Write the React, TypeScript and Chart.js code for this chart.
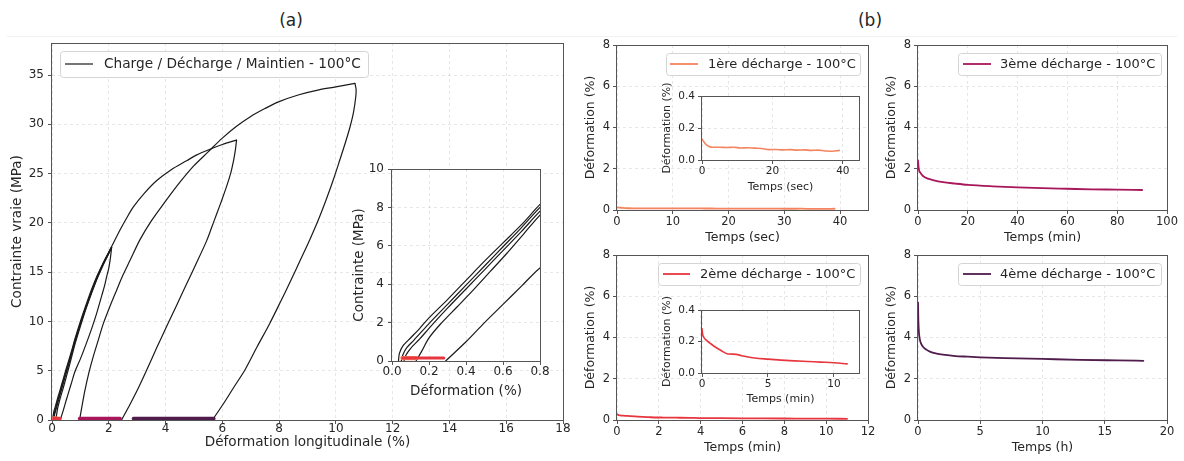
import React, { useEffect, useRef } from "react";
import { Chart, registerables } from "chart.js";

Chart.register(...registerables);

const FONT = "'DejaVu Sans', 'Liberation Sans', sans-serif";
const TEXT = "#262626";
const SPINE = "#555555";
const GRID = "rgba(0,0,0,0.12)";

const BLACK = "#1a1a1a";
const C1 = "#f4845f";
const C2 = "#e8363f";
const C3 = "#a8175b";
const C4 = "#4f1c4c";

// ---------- tick labels ----------
const aStrainTicks = [0, 2, 4, 6, 8, 10, 12, 14, 16, 18];
const aStressTicks = [0, 5, 10, 15, 20, 25, 30, 35];
const insetStrainTicks = [0, 0.2, 0.4, 0.6, 0.8];
const insetStressTicks = [0, 2, 4, 6, 8, 10];
const defTicks = [0, 2, 4, 6, 8];
const secTicks = [0, 10, 20, 30, 40];
const min3Ticks = [0, 20, 40, 60, 80, 100];
const min2Ticks = [0, 2, 4, 6, 8, 10, 12];
const hourTicks = [0, 5, 10, 15, 20];
const insetDefTicks = [0, 0.2, 0.4];
const insetSecTicks = [0, 20, 40];
const insetMinTicks = [0, 5, 10];

// ---------- (a) charge / décharge curves : [strain %, stress MPa] ----------
const load1: [number, number][] = [[0.035,0],[0.04,0.4],[0.06,0.8],[0.1,1.2],[0.15,1.7],[0.2,2.25],[0.3,3.2],[0.4,4.2],[0.5,5.2],[0.6,6.15],[0.7,7.1],[0.8,8.15],[1.0,10.0],[1.2,11.7],[1.4,13.3],[1.6,14.7],[1.8,15.9],[2.0,17.0],[2.1,17.5]];
const unload1: [number, number][] = [[2.1,17.5],[1.98,16.8],[1.8,15.7],[1.6,14.4],[1.4,12.9],[1.2,11.3],[1.0,9.5],[0.8,7.6],[0.71,6.6],[0.62,5.6],[0.53,4.65],[0.44,3.7],[0.35,2.8],[0.26,1.9],[0.2,1.2],[0.16,0.5],[0.13,0]];
const load2: [number, number][] = [[0.05,0],[0.06,0.35],[0.08,0.7],[0.12,1.1],[0.2,1.95],[0.3,2.95],[0.4,3.95],[0.5,4.95],[0.6,5.95],[0.7,6.95],[0.8,8.0],[1.0,9.8],[1.2,11.5],[1.4,13.1],[1.6,14.5],[1.8,15.8],[2.0,16.9],[2.1,17.5]];
const unload2: [number, number][] = [[2.1,17.5],[2.06,16.5],[2.0,15.4],[1.93,14.6],[1.85,13.6],[1.75,12.6],[1.57,10.8],[1.4,9.3],[1.2,7.7],[1.0,6.2],[0.8,4.85],[0.7,3.9],[0.6,2.95],[0.5,2.0],[0.4,1.0],[0.29,0]];
const load3: [number, number][] = [[0.065,0],[0.075,0.3],[0.1,0.65],[0.15,1.15],[0.2,1.7],[0.3,2.75],[0.4,3.75],[0.5,4.75],[0.6,5.75],[0.7,6.75],[0.8,7.8],[1.0,9.7],[1.2,11.4],[1.5,13.8],[1.8,15.9],[2.1,17.6],[2.4,19.3],[2.63,20.5],[2.86,21.6],[3.25,23.0],[3.69,24.3],[4.2,25.4],[4.74,26.3],[5.1,26.9],[5.5,27.4],[6.0,27.95],[6.5,28.4]];
const unload3: [number, number][] = [[6.5,28.4],[6.46,27.4],[6.4,26.4],[6.3,25.1],[6.15,23.7],[5.98,22.3],[5.8,20.9],[5.62,19.5],[5.45,18.2],[5.1,16.0],[4.74,13.8],[4.4,11.7],[4.04,9.5],[3.7,7.4],[3.34,5.1],[3.05,3.3],[2.75,1.6],[2.45,0]];
const load4: [number, number][] = [[0.97,0],[1.05,1.3],[1.16,3.0],[1.3,4.8],[1.45,6.4],[1.63,8.1],[1.81,9.8],[2.05,11.6],[2.28,13.2],[2.5,14.7],[2.75,16.2],[3.1,18.3],[3.5,20.2],[4.0,22.2],[4.5,24.1],[5.0,25.8],[5.5,27.2],[6.0,28.6],[6.5,29.8],[7.0,30.8],[7.5,31.6],[8.0,32.3],[8.7,33.0],[9.4,33.5],[10.0,33.8],[10.67,34.15]];
const unload4: [number, number][] = [[10.67,34.15],[10.71,33.6],[10.7,32.8],[10.62,31.2],[10.5,29.75],[10.33,28.1],[10.14,26.4],[9.9,24.3],[9.65,22.3],[9.38,20.3],[9.08,18.3],[8.76,16.3],[8.42,14.2],[8.05,12.0],[7.67,9.8],[7.22,7.4],[6.8,5.1],[6.4,3.3],[6.05,1.7],[5.65,0]];
const HOLD_STRESS = 0.15;

// ---------- (b) maintiens : time vs déformation ----------
const t1Sec = [0,0.5,1,2,3,5,7,9,11,13,15,17,19,21,23,25,27,29,31,33,35,37,39];
const def1 = [0.13,0.115,0.1,0.085,0.08,0.08,0.078,0.08,0.075,0.077,0.074,0.072,0.065,0.066,0.063,0.065,0.062,0.063,0.06,0.062,0.056,0.055,0.06];
const t2Min = [0,0.05,0.15,0.3,0.6,1.0,1.5,1.9,2.2,2.6,3.0,3.5,4.0,5.0,6.0,7.0,8.0,9.0,10.0,11.0];
const def2 = [0.28,0.245,0.225,0.21,0.19,0.165,0.14,0.122,0.12,0.118,0.11,0.102,0.095,0.088,0.082,0.077,0.073,0.069,0.065,0.058];
const t3Min = [0,0.3,1,2,4,6,10,15,20,30,40,50,60,70,80,90];
const def3 = [2.4,2.0,1.8,1.65,1.52,1.45,1.35,1.28,1.22,1.15,1.1,1.06,1.03,1.0,0.99,0.97];
const t4H = [0,0.03,0.08,0.15,0.25,0.4,0.7,1,1.5,2,3,4,5,7,10,13,16,18.1];
const def4 = [5.7,4.8,4.2,3.9,3.7,3.55,3.4,3.3,3.22,3.17,3.1,3.07,3.04,3.0,2.96,2.92,2.89,2.87];

// ---------- helpers ----------
type Rect = { l: number; t: number; r: number; b: number };
type AxisSpec = {
  min: number; max: number; ticks: number[]; dec: number;
  title: string; titleAt: number; titleSize: number; tickSize: number; pad: number; ext?: boolean;
};
type LegendSpec = {
  x0: number; y0: number; x1: number; y1: number; l0: number; l1: number; ly: number;
  tx: number; text: string; color: string; lw: number; size: number;
};
type PanelSpec = { key: string; box: Rect; canvas: Rect; x: AxisSpec; y: AxisSpec; datasets: any[]; legend?: LegendSpec };

const pts = (xs: number[], ys: number[]) => xs.map((x, i) => ({ x, y: ys[i] }));
const pairs = (p: [number, number][]) => p.map(([x, y]) => ({ x, y }));

const lineDs = (data: any[], color: string, width: number, extra: any = {}) => ({
  data, borderColor: color, backgroundColor: color, borderWidth: width, showLine: true,
  pointRadius: 0, fill: false, borderCapStyle: "round", borderJoinStyle: "round", ...extra,
});

const aDatasets = (blackW: number, holdW: number) => [
  ...[load1, unload1, load2, unload2, load3, unload3, load4, unload4].map((seg) =>
    lineDs(pairs(seg), BLACK, blackW, { tension: 0.3, order: 10 })
  ),
  lineDs(def4.map((d) => ({ x: d, y: HOLD_STRESS })), C4, holdW, { order: 4 }),
  lineDs(def3.map((d) => ({ x: d, y: HOLD_STRESS })), C3, holdW, { order: 3 }),
  lineDs(def1.map((d) => ({ x: d, y: HOLD_STRESS })), C1, holdW + 1.2, { order: 2 }),
  lineDs(def2.map((d) => ({ x: d, y: HOLD_STRESS })), C2, holdW, { order: 1 }),
];

const bgFrame = {
  id: "bgFrame",
  beforeDraw(chart: any) {
    const { ctx, chartArea: a } = chart;
    ctx.save();
    ctx.fillStyle = "#ffffff";
    ctx.fillRect(a.left, a.top, a.right - a.left, a.bottom - a.top);
    ctx.restore();
  },
  afterDraw(chart: any, _args: any, o: any) {
    const { ctx, chartArea: a } = chart;
    ctx.save();
    ctx.strokeStyle = SPINE;
    ctx.lineWidth = 1;
    ctx.strokeRect(Math.round(a.left) - 0.5, Math.round(a.top) + 0.5, Math.round(a.right - a.left) + 1, Math.round(a.bottom - a.top));
    if (o && o.vTitle) {
      ctx.fillStyle = TEXT;
      ctx.font = `${o.vSize}px ${FONT}`;
      ctx.textAlign = "center";
      ctx.textBaseline = "middle";
      ctx.translate(o.vx, (a.top + a.bottom) / 2);
      ctx.rotate(-Math.PI / 2);
      ctx.fillText(o.vTitle, 0, 0);
    }
    ctx.restore();
  },
};

const boxLegend = {
  id: "boxLegend",
  afterDatasetsDraw(chart: any, _args: any, o: any) {
    if (!o || !o.text) return;
    const ctx = chart.ctx;
    ctx.save();
    const r = 3;
    const x0 = o.x0 + 0.5, y0 = o.y0 + 0.5, x1 = o.x1 + 0.5, y1 = o.y1 + 0.5;
    ctx.beginPath();
    ctx.moveTo(x0 + r, y0);
    ctx.lineTo(x1 - r, y0);
    ctx.quadraticCurveTo(x1, y0, x1, y0 + r);
    ctx.lineTo(x1, y1 - r);
    ctx.quadraticCurveTo(x1, y1, x1 - r, y1);
    ctx.lineTo(x0 + r, y1);
    ctx.quadraticCurveTo(x0, y1, x0, y1 - r);
    ctx.lineTo(x0, y0 + r);
    ctx.quadraticCurveTo(x0, y0, x0 + r, y0);
    ctx.closePath();
    ctx.fillStyle = "rgba(255,255,255,0.85)";
    ctx.fill();
    ctx.strokeStyle = "#d4d4d4";
    ctx.lineWidth = 1;
    ctx.stroke();
    ctx.beginPath();
    ctx.strokeStyle = o.color;
    ctx.lineWidth = o.lw;
    ctx.moveTo(o.l0, o.ly);
    ctx.lineTo(o.l1, o.ly);
    ctx.stroke();
    ctx.fillStyle = TEXT;
    ctx.font = `${o.size}px ${FONT}`;
    ctx.textBaseline = "middle";
    ctx.textAlign = "left";
    ctx.fillText(o.text, o.tx, o.ly + 0.5);
    ctx.restore();
  },
};

function buildConfig(p: PanelSpec): any {
  const ML = p.box.l - p.canvas.l;
  const MT = p.box.t - p.canvas.t;
  const MR = p.canvas.r - p.box.r;
  const MB = p.canvas.b - p.box.b;
  const axis = (a: AxisSpec, horizontal: boolean, size: number) => ({
    type: "linear",
    position: horizontal ? "bottom" : "left",
    min: a.min,
    max: a.max,
    bounds: "data",
    afterBuildTicks: (s: any) => {
      s.ticks = a.ticks.map((v) => ({ value: v }));
    },
    afterFit: (s: any) => {
      if (horizontal) s.height = size;
      else s.width = size;
      s.paddingLeft = 0;
      s.paddingRight = 0;
      s.paddingTop = 0;
      s.paddingBottom = 0;
    },
    ticks: {
      autoSkip: false,
      maxRotation: 0,
      minRotation: 0,
      padding: a.pad,
      color: TEXT,
      font: { family: FONT, size: a.tickSize },
      callback: (v: any) => Number(v).toFixed(a.dec),
    },
    grid: {
      color: GRID,
      lineWidth: 0.8,
      drawTicks: true,
      tickLength: 4,
      tickColor: SPINE,
      tickWidth: 1,
      tickBorderDash: [],
      drawOnChartArea: true,
    },
    border: { display: false, dash: [3, 3] },
    title: {
      display: !a.ext,
      text: a.title,
      color: TEXT,
      font: { family: FONT, size: a.titleSize },
      padding: horizontal
        ? { top: 0, bottom: p.canvas.b - a.titleAt - a.titleSize * 0.6 }
        : { top: a.titleAt - p.canvas.l - a.titleSize * 0.6, bottom: 0 },
    },
  });
  const lg = p.legend
    ? {
        ...p.legend,
        x0: p.legend.x0 - p.canvas.l, x1: p.legend.x1 - p.canvas.l,
        l0: p.legend.l0 - p.canvas.l, l1: p.legend.l1 - p.canvas.l, tx: p.legend.tx - p.canvas.l,
        y0: p.legend.y0 - p.canvas.t, y1: p.legend.y1 - p.canvas.t, ly: p.legend.ly - p.canvas.t,
      }
    : {};
  const frameOpts = p.y.ext ? { vTitle: p.y.title, vSize: p.y.titleSize, vx: p.y.titleAt - p.canvas.l } : {};
  return {
    type: "scatter",
    data: { datasets: p.datasets },
    options: {
      responsive: false,
      maintainAspectRatio: false,
      animation: false,
      devicePixelRatio: 1,
      events: [],
      layout: { autoPadding: false, padding: { left: 0, top: MT, right: MR, bottom: 0 } },
      scales: { x: axis(p.x, true, MB), y: axis(p.y, false, ML) },
      plugins: { legend: { display: false }, tooltip: { enabled: false }, boxLegend: lg, bgFrame: frameOpts },
    },
    plugins: [bgFrame, boxLegend],
  };
}

function ChartPanel({ spec }: { spec: PanelSpec }) {
  const ref = useRef<HTMLCanvasElement>(null);
  useEffect(() => {
    const chart = new Chart(ref.current as HTMLCanvasElement, buildConfig(spec));
    return () => chart.destroy();
  }, []);
  const w = spec.canvas.r - spec.canvas.l;
  const h = spec.canvas.b - spec.canvas.t;
  return (
    <canvas
      ref={ref}
      width={w}
      height={h}
      style={{ position: "absolute", left: spec.canvas.l, top: spec.canvas.t, width: w, height: h }}
    />
  );
}

const bx = (min: number, max: number, ticks: number[], dec: number, title: string, titleAt: number, titleSize: number, tickSize: number, pad: number, ext = false): AxisSpec => ({
  min, max, ticks, dec, title, titleAt, titleSize, tickSize, pad, ext,
});

const panels: PanelSpec[] = [
  {
    key: "a",
    box: { l: 52, t: 43, r: 563, b: 420 },
    canvas: { l: 0, t: 30, r: 582, b: 461 },
    x: bx(0, 18, aStrainTicks, 0, "Déformation longitudinale (%)", 442, 13.6, 12, -2),
    y: bx(0, 38.25, aStressTicks, 0, "Contrainte vraie (MPa)", 17, 13.6, 12, 4),
    datasets: aDatasets(1.2, 3.5),
    legend: { x0: 60, y0: 51, x1: 368, y1: 77, l0: 65, l1: 93, ly: 64, tx: 104, text: "Charge / Décharge / Maintien - 100°C", color: BLACK, lw: 1.2, size: 13.7 },
  },
  {
    key: "ai",
    box: { l: 392, t: 169, r: 540, b: 361 },
    canvas: { l: 345, t: 158, r: 556, b: 402 },
    x: bx(0, 0.8, insetStrainTicks, 1, "Déformation (%)", 391, 13.5, 12, 0),
    y: bx(0, 10, insetStressTicks, 0, "Contrainte (MPa)", 359, 13.5, 12, 4),
    datasets: aDatasets(1.2, 3),
  },
  {
    key: "b1",
    box: { l: 617, t: 45, r: 868, b: 210 },
    canvas: { l: 578, t: 35, r: 882, b: 250 },
    x: bx(0, 45, secTicks, 0, "Temps (sec)", 237.5, 12.5, 11.5, 1),
    y: bx(0, 8, defTicks, 0, "Déformation (%)", 591, 12.5, 11.5, 3),
    datasets: [lineDs(pts(t1Sec, def1), C1, 1.8, { cubicInterpolationMode: "monotone" })],
    legend: { x0: 666, y0: 53, x1: 860, y1: 75, l0: 670, l1: 698, ly: 64, tx: 708, text: "1ère décharge - 100°C", color: C1, lw: 1.8, size: 13 },
  },
  {
    key: "b1i",
    box: { l: 702, t: 96, r: 859, b: 160 },
    canvas: { l: 655, t: 70, r: 870, b: 198 },
    x: bx(0, 44.6, insetSecTicks, 0, "Temps (sec)", 187, 11, 10.5, 1),
    y: bx(0, 0.4, insetDefTicks, 1, "Déformation (%)", 667, 11, 10.5, 3, true),
    datasets: [lineDs(pts(t1Sec, def1), C1, 1.6, { cubicInterpolationMode: "monotone" })],
  },
  {
    key: "b3",
    box: { l: 918, t: 45, r: 1167, b: 210 },
    canvas: { l: 880, t: 35, r: 1184, b: 250 },
    x: bx(0, 100, min3Ticks, 0, "Temps (min)", 237.5, 12.5, 11.5, 1),
    y: bx(0, 8, defTicks, 0, "Déformation (%)", 892, 12.5, 11.5, 3),
    datasets: [lineDs(pts(t3Min, def3), C3, 1.8, { cubicInterpolationMode: "monotone" })],
    legend: { x0: 958, y0: 53, x1: 1161, y1: 75, l0: 963, l1: 991, ly: 64, tx: 1000, text: "3ème décharge - 100°C", color: C3, lw: 1.8, size: 13 },
  },
  {
    key: "b2",
    box: { l: 617, t: 255, r: 868, b: 420 },
    canvas: { l: 578, t: 245, r: 882, b: 461 },
    x: bx(0, 12, min2Ticks, 0, "Temps (min)", 447.5, 12.5, 11.5, 1),
    y: bx(0, 8, defTicks, 0, "Déformation (%)", 591, 12.5, 11.5, 3),
    datasets: [lineDs(pts(t2Min, def2), C2, 1.8, { cubicInterpolationMode: "monotone" })],
    legend: { x0: 658, y0: 263, x1: 860, y1: 285, l0: 663, l1: 690, ly: 274, tx: 700, text: "2ème décharge - 100°C", color: C2, lw: 1.8, size: 13 },
  },
  {
    key: "b2i",
    box: { l: 702, t: 310, r: 859, b: 373 },
    canvas: { l: 655, t: 290, r: 870, b: 410 },
    x: bx(0, 11.9, insetMinTicks, 0, "Temps (min)", 399, 11, 10.5, 1),
    y: bx(0, 0.4, insetDefTicks, 1, "Déformation (%)", 667, 11, 10.5, 3, true),
    datasets: [lineDs(pts(t2Min, def2), C2, 1.6, { cubicInterpolationMode: "monotone" })],
  },
  {
    key: "b4",
    box: { l: 918, t: 255, r: 1167, b: 420 },
    canvas: { l: 880, t: 245, r: 1184, b: 461 },
    x: bx(0, 20, hourTicks, 0, "Temps (h)", 447.5, 12.5, 11.5, 1),
    y: bx(0, 8, defTicks, 0, "Déformation (%)", 892, 12.5, 11.5, 3),
    datasets: [lineDs(pts(t4H, def4), C4, 1.8, { cubicInterpolationMode: "monotone" })],
    legend: { x0: 958, y0: 263, x1: 1161, y1: 285, l0: 963, l1: 991, ly: 274, tx: 1000, text: "4ème décharge - 100°C", color: C4, lw: 1.8, size: 13 },
  },
];

export default function App() {
  const label = (text: string, x: number, y: number) => (
    <div
      style={{
        position: "absolute", left: x, top: y, transform: "translate(-50%, -50%)",
        fontFamily: FONT, fontSize: 17, lineHeight: 1, color: TEXT, whiteSpace: "nowrap",
      }}
    >
      {text}
    </div>
  );
  return (
    <div style={{ position: "absolute", left: 0, top: 0, width: 1184, height: 461, background: "#ffffff", overflow: "hidden" }}>
      <div style={{ position: "absolute", left: 7, top: 36, width: 1170, height: 1, background: "#f1f1f1" }} />
      {label("(a)", 291, 20)}
      {label("(b)", 870, 20)}
      {panels.map((p) => (
        <ChartPanel key={p.key} spec={p} />
      ))}
    </div>
  );
}
